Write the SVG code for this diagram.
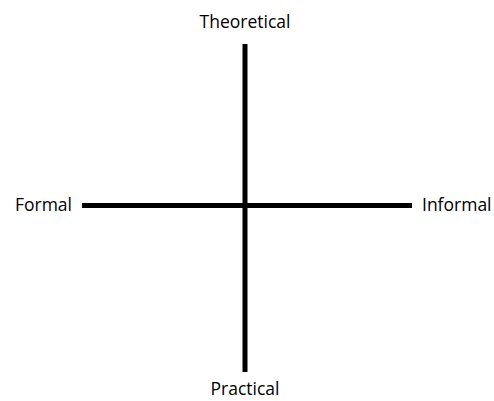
<svg xmlns="http://www.w3.org/2000/svg" width="494" height="401" viewBox="0 0 494 401">
<style>
.lbl{font-family:"Open Sans","Noto Sans",sans-serif;font-size:17.5px;fill:#000}
.ax{stroke:#000;stroke-width:5;fill:none}
</style>
<rect width="494" height="401" fill="#fff"/>
<g id="connectors">
<line class="ax" x1="245" y1="44" x2="245" y2="372"/>
<line class="ax" x1="82" y1="205.5" x2="412" y2="205.5"/>
</g>
<g id="theoretical"><text class="lbl" x="245" y="28" text-anchor="middle">Theoretical</text></g>
<g id="practical"><text class="lbl" x="245" y="395" text-anchor="middle">Practical</text></g>
<g id="formal"><text class="lbl" x="72" y="211" text-anchor="end">Formal</text></g>
<g id="informal"><text class="lbl" x="422" y="211">Informal</text></g>
</svg>
